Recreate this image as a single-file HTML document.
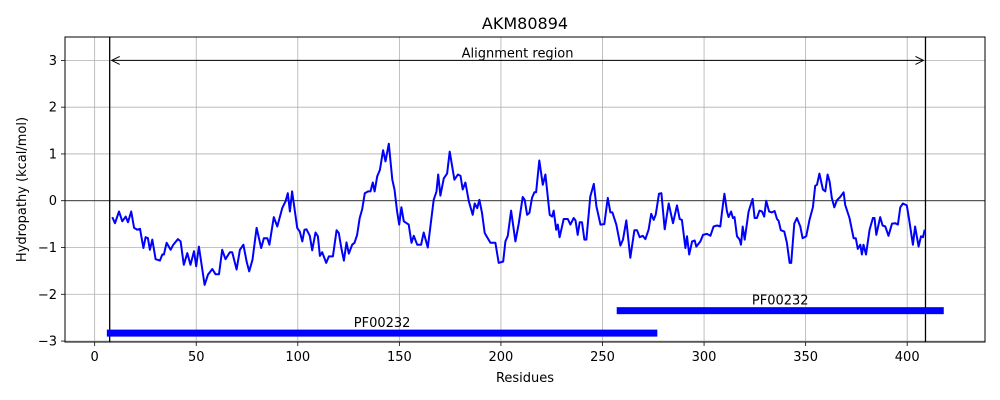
<!DOCTYPE html>
<html><head><meta charset="utf-8"><style>
body{margin:0;background:#fff;}
svg{display:block;font-family:"DejaVu Sans","Liberation Sans",sans-serif;}
</style></head><body>
<svg id="chart" width="1000" height="400" xmlns="http://www.w3.org/2000/svg"></svg>
<script>
const residues=[8.7,10.0,12.0,13.6,15.3,16.4,18.0,19.4,21.0,22.3,24.0,25.1,26.2,27.2,28.4,30.0,32.1,33.3,34.1,35.4,37.4,38.7,41.0,42.3,43.9,45.6,47.2,48.9,50.0,51.3,54.1,55.8,57.9,59.5,61.2,62.8,64.4,66.6,67.7,69.9,71.5,73.2,74.8,76.1,77.7,79.7,82.0,83.3,85.0,86.0,88.2,89.9,92.3,94.0,95.1,96.1,97.2,99.7,101.0,102.2,103.3,104.3,105.9,107.1,108.7,109.9,110.9,112.0,114.0,115.3,117.3,119.1,120.2,121.4,122.7,124.0,125.1,126.8,127.9,129.2,130.5,131.7,133.0,134.6,135.8,136.9,137.8,139.1,140.4,142.0,143.2,144.8,146.5,147.6,148.9,149.9,151.0,152.2,154.6,156.0,157.1,158.8,160.7,162.0,164.0,165.3,166.9,168.3,169.1,170.2,171.9,173.5,174.8,177.1,178.8,180.1,181.2,182.5,184.2,186.1,187.1,188.3,189.4,190.7,192.0,194.8,197.3,198.9,201.1,202.2,203.4,205.0,207.1,208.8,210.7,211.7,212.9,214.0,215.3,216.5,217.3,218.9,220.6,221.9,224.0,225.2,226.0,227.2,228.0,228.9,230.9,232.9,234.2,235.8,236.7,237.8,238.8,239.9,241.1,242.1,244.0,245.7,247.0,249.0,250.9,252.6,253.9,254.9,256.8,258.8,260.1,261.7,263.7,265.7,267.0,268.3,269.8,271.1,272.7,274.0,275.2,276.2,277.8,279.0,280.6,282.6,284.7,286.7,288.0,289.1,290.8,291.6,292.7,294.1,295.4,296.2,298.2,299.5,301.4,303.1,304.7,306.4,308.0,308.8,310.0,311.3,312.1,313.3,314.2,315.0,316.2,317.5,318.2,319.0,320.0,321.9,323.9,324.9,326.0,327.3,328.5,329.6,330.6,332.0,333.4,334.7,335.9,336.7,337.8,339.5,340.8,342.1,342.9,344.4,345.7,347.4,348.5,350.3,351.9,353.6,354.7,355.6,356.8,358.5,359.7,360.8,361.8,362.9,364.1,365.4,367.0,368.7,369.5,371.6,373.6,374.7,375.7,376.9,377.7,378.5,379.7,381.5,383.1,383.9,384.8,386.7,387.9,389.2,390.8,392.5,394.1,395.4,396.6,397.9,399.8,401.0,402.8,403.9,405.6,406.8,407.8,408.6];
const hydropathy=[-0.35,-0.48,-0.23,-0.44,-0.34,-0.46,-0.23,-0.58,-0.62,-0.60,-1.01,-0.78,-0.80,-1.05,-0.83,-1.25,-1.28,-1.15,-1.15,-0.90,-1.05,-0.94,-0.82,-0.87,-1.37,-1.12,-1.37,-1.08,-1.40,-0.98,-1.80,-1.58,-1.46,-1.57,-1.57,-1.05,-1.25,-1.10,-1.10,-1.47,-1.05,-0.94,-1.30,-1.51,-1.26,-0.58,-1.01,-0.80,-0.80,-0.94,-0.35,-0.55,-0.16,-0.01,0.16,-0.23,0.20,-0.58,-0.66,-0.87,-0.62,-0.61,-0.75,-1.06,-0.68,-0.76,-1.18,-1.10,-1.33,-1.19,-1.19,-0.63,-0.69,-1.01,-1.28,-0.89,-1.13,-0.94,-0.90,-0.73,-0.37,-0.18,0.16,0.20,0.20,0.39,0.20,0.52,0.66,1.08,0.84,1.22,0.45,0.24,-0.23,-0.51,-0.14,-0.44,-0.51,-0.90,-0.75,-0.94,-0.94,-0.68,-1.00,-0.55,0.02,0.20,0.56,0.11,0.48,0.58,1.05,0.45,0.56,0.53,0.24,0.39,-0.01,-0.30,-0.06,-0.16,0.02,-0.26,-0.69,-0.90,-0.90,-1.33,-1.30,-0.87,-0.75,-0.21,-0.87,-0.48,0.08,0.02,-0.30,-0.26,0.06,0.18,0.18,0.86,0.34,0.56,-0.30,-0.34,-0.21,-0.62,-0.51,-0.78,-0.39,-0.39,-0.51,-0.37,-0.42,-0.73,-0.46,-0.46,-0.83,-0.83,0.09,0.36,-0.12,-0.51,-0.50,0.06,-0.25,-0.25,-0.51,-0.96,-0.83,-0.42,-1.22,-0.63,-0.63,-0.78,-0.75,-0.82,-0.62,-0.28,-0.41,-0.30,0.15,0.16,-0.61,-0.06,-0.48,-0.10,-0.39,-0.41,-1.01,-0.76,-1.15,-0.87,-0.85,-0.98,-0.87,-0.73,-0.71,-0.75,-0.55,-0.53,-0.55,-0.26,0.15,-0.23,-0.35,-0.23,-0.37,-0.35,-0.76,-0.83,-0.94,-0.55,-0.83,-0.23,0.04,-0.37,-0.37,-0.21,-0.23,-0.34,0.0,-0.23,-0.25,-0.22,-0.39,-0.43,-0.63,-0.66,-0.90,-1.33,-1.33,-0.49,-0.37,-0.55,-0.80,-0.76,-0.41,-0.14,0.32,0.34,0.58,0.24,0.20,0.56,0.41,0.06,-0.14,0.01,0.08,0.18,-0.09,-0.37,-0.80,-0.80,-1.03,-0.94,-1.15,-0.94,-1.15,-0.62,-0.37,-0.37,-0.73,-0.35,-0.53,-0.55,-0.75,-0.49,-0.48,-0.51,-0.14,-0.06,-0.10,-0.41,-0.94,-0.55,-0.98,-0.76,-0.78,-0.62];
const xTicks=[0,50,100,150,200,250,300,350,400];
const yTicks=[-3,-2,-1,0,1,2,3];
const yTickLabels=["\u22123","\u22122","\u22121","0","1","2","3"];
const domainNames=["PF00232","PF00232"];
const domainStart=[257,6];
const domainEnd=[418,277];
const domainY=[-2.35,-2.83];
const alignStart=7.4, alignEnd=409;

const L=65,R=985,T=37,B=342;
const xMin=-14.6,xMax=438.3,yMin=-3.02,yMax=3.5;
const sx=v=>L+(v-xMin)/(xMax-xMin)*(R-L);
const sy=v=>B-(v-yMin)/(yMax-yMin)*(B-T);
const NS="http://www.w3.org/2000/svg";
const svg=document.getElementById('chart');
function mk(tag,attrs,parent){const e=document.createElementNS(NS,tag);for(const k in attrs)e.setAttribute(k,attrs[k]);(parent||svg).appendChild(e);return e;}

const grid=mk('g',{});


xTicks.forEach(t=>{mk('line',{x1:sx(t),x2:sx(t),y1:T,y2:B,stroke:'#b0b0b0','stroke-width':0.8},grid);});
yTicks.forEach(t=>{mk('line',{x1:L,x2:R,y1:sy(t),y2:sy(t),stroke:'#b0b0b0','stroke-width':0.8},grid);});

const zero=mk('line',{x1:L,x2:R,y1:sy(0),y2:sy(0),stroke:'#000','stroke-width':0.8});



[alignStart,alignEnd].forEach((v,i)=>{
  const l=mk('line',{x1:sx(v),x2:sx(v),y1:T,y2:B,stroke:'#000','stroke-width':1.3});
  
  
});

const arrow=mk('g',{});


const ay=sy(3),a1=sx(alignStart)+2,a2=sx(alignEnd)-2;
mk('line',{x1:a1,x2:a2,y1:ay,y2:ay,stroke:'#000','stroke-width':1},arrow);
mk('path',{d:`M${a1+8},${ay-4} L${a1},${ay} L${a1+8},${ay+4}`,fill:'none',stroke:'#000','stroke-width':1},arrow);
mk('path',{d:`M${a2-8},${ay-4} L${a2},${ay} L${a2-8},${ay+4}`,fill:'none',stroke:'#000','stroke-width':1},arrow);
const at=mk('text',{x:(sx(alignStart)+sx(alignEnd))/2,y:ay-3,'text-anchor':'middle','font-size':13});
at.textContent='Alignment region';



domainNames.forEach((n,i)=>{
  const r=mk('rect',{x:sx(domainStart[i]),y:sy(domainY[i])-3.5,width:sx(domainEnd[i])-sx(domainStart[i]),height:7,fill:'#0000ff'});
  
  
  const t=mk('text',{x:(sx(domainStart[i])+sx(domainEnd[i]))/2,y:sy(domainY[i])-6,'text-anchor':'middle','font-size':13});
  t.textContent=n;
  
  
});

const pts=residues.map((r,i)=>sx(r).toFixed(1)+','+sy(hydropathy[i]).toFixed(1)).join(' ');
const line=mk('polyline',{points:pts,fill:'none',stroke:'#0000ff','stroke-width':2,'stroke-linejoin':'round'});



const frame=mk('rect',{x:L,y:T,width:R-L,height:B-T,fill:'none',stroke:'#000','stroke-width':1});



xTicks.forEach(t=>{
  mk('line',{x1:sx(t),x2:sx(t),y1:B,y2:B+4,stroke:'#000','stroke-width':0.8});
  const tx=mk('text',{x:sx(t),y:B+19,'text-anchor':'middle','font-size':13});
  tx.textContent=t;
  
  
});
yTicks.forEach((t,i)=>{
  mk('line',{x1:L-4,x2:L,y1:sy(t),y2:sy(t),stroke:'#000','stroke-width':0.8});
  const tx=mk('text',{x:L-8,y:sy(t)+4.5,'text-anchor':'end','font-size':13});
  tx.textContent=yTickLabels[i];
  
  
});

const title=mk('text',{x:(L+R)/2,y:29,'text-anchor':'middle','font-size':16});
title.textContent='AKM80894';


const xl=mk('text',{x:(L+R)/2,y:382,'text-anchor':'middle','font-size':13});
xl.textContent='Residues';


const yl=mk('text',{x:0,y:0,'text-anchor':'middle','font-size':13,transform:`translate(26,${(T+B)/2}) rotate(-90)`});
yl.textContent='Hydropathy (kcal/mol)';


</script>
</body></html>
